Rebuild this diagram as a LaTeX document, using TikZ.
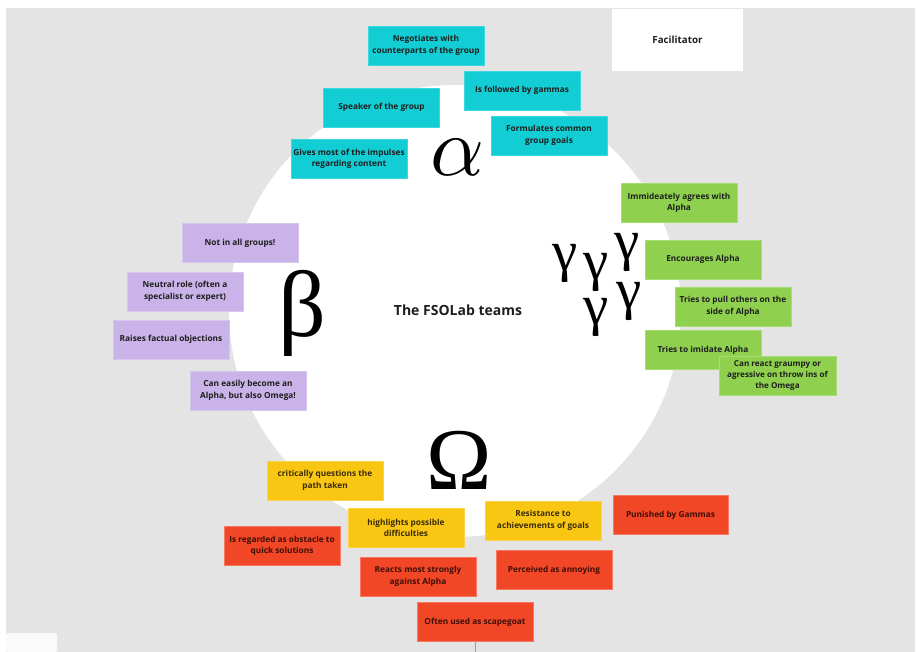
\documentclass[tikz,border=0pt]{standalone}
\usepackage{fontspec}
\setmainfont{Open Sans}
\newfontfamily\greekfont{Liberation Serif}
\definecolor{board}{HTML}{E4E4E4}
\definecolor{cyanfill}{HTML}{13CDD4}
\definecolor{cyanline}{HTML}{3DD8DE}
\definecolor{greenfill}{HTML}{8FD14F}
\definecolor{greenline}{HTML}{A6DC72}
\definecolor{lilacfill}{HTML}{C9B3E8}
\definecolor{lilacline}{HTML}{D6C6EE}
\definecolor{yellowfill}{HTML}{FAC614}
\definecolor{yellowline}{HTML}{FBD24A}
\definecolor{redfill}{HTML}{F24726}
\definecolor{redline}{HTML}{F57A62}
\definecolor{darktext}{HTML}{1E1E1E}
\definecolor{redtext}{HTML}{3E0F08}
\definecolor{yellowtext}{HTML}{3A2E05}
\tikzset{
  note/.style={rectangle, minimum width=116pt, minimum height=39pt, inner sep=0pt,
    align=center, line width=0.8pt, font=\bfseries\fontsize{8.3}{11.6}\selectfont},
  alphanote/.style={note, fill=cyanfill, draw=cyanline, text=darktext},
  gammanote/.style={note, fill=greenfill, draw=greenline, text=darktext},
  betanote/.style={note, fill=lilacfill, draw=lilacline, text=darktext},
  omeganote/.style={note, fill=yellowfill, draw=yellowline, text=yellowtext},
  hotnote/.style={note, fill=redfill, draw=redline, text=redtext},
  glyph/.style={inner sep=0pt, text=black},
}
\begin{document}
\begin{tikzpicture}[x=1pt, y=-1pt]
\useasboundingbox (0,0) rectangle (917,652);
% board
\fill[white] (0,0) rectangle (917,652);
\fill[board] (6,8) rectangle (915,652);
% central disc
\fill[white] (455,311) circle[radius=226];
\node[font=\bfseries\fontsize{14}{16}\selectfont, text=darktext] (title) at (458,310) {The FSOLab teams};

% facilitator card
\node[rectangle, fill=white, minimum width=131pt, minimum height=62pt, inner sep=0pt,
      font=\bfseries\fontsize{9.8}{12}\selectfont, text=darktext] (facil) at (677.5,40) {Facilitator};

% alpha
\node[glyph, scale=8.4] (alpha) at (458,157.5) {$\alpha$};
\node[alphanote] (a1) at (426,45.5) {Negotiates with\\counterparts of the group};
\node[alphanote] (a2) at (522,90.5) {Is followed by gammas};
\node[alphanote] (a3) at (381.5,107.5) {Speaker of the group};
\node[alphanote] (a4) at (549,135.5) {Formulates common\\group goals};
\node[alphanote] (a5) at (349,159) {Gives most of the impulses\\regarding content};

% gammas
\begin{scope}[every node/.style={glyph, font=\greekfont\fontsize{57}{57}\selectfont}]
\node (gm1) at (565,263) {γ};
\node (gm2) at (596,272) {γ};
\node (gm3) at (627,252) {γ};
\node (gm4) at (596,317) {γ};
\node (gm5) at (629,301) {γ};
\end{scope}
\node[gammanote] (c1) at (679,203) {Immideately agrees with\\Alpha};
\node[gammanote] (c2) at (703,259.5) {Encourages Alpha};
\node[gammanote] (c3) at (733,306.5) {Tries to pull others on the\\side of Alpha};
\node[gammanote] (c4) at (703,350) {Tries to imidate Alpha};
\node[gammanote, minimum width=117pt, font=\bfseries\fontsize{8.1}{10.9}\selectfont] (c5) at (777.5,375.5) {Can react graumpy or\\agressive on throw ins of\\the Omega};

% beta
\node[glyph, font=\greekfont\fontsize{94}{94}\selectfont] (beta) at (302,313.5) {β};
\node[betanote] (b1) at (240,243) {Not in all groups!};
\node[betanote] (b2) at (185,291.5) {Neutral role (often a\\specialist or expert)};
\node[betanote] (b3) at (171,339.5) {Raises factual objections};
\node[betanote] (b4) at (248,390.5) {Can easily become an\\Alpha, but also Omega!};

% omega
\node[glyph, font=\greekfont\fontsize{88}{88}\selectfont] (omega) at (459,460) {Ω};
\node[omeganote] (o1) at (325,480.5) {critically questions the\\path taken};
\node[omeganote] (o2) at (406,528) {highlights possible\\difficulties};
\node[omeganote] (o3) at (543,520.5) {Resistance to\\achievements of goals};
\node[hotnote] (h1) at (282,546) {Is regarded as obstacle to\\quick solutions};
\node[hotnote] (h2) at (418,576.5) {Reacts most strongly\\against Alpha};
\node[hotnote, minimum width=115pt] (h3) at (670.5,515) {Punished by Gammas};
\node[hotnote] (h4) at (554,570) {Perceived as annoying};
\node[hotnote] (h5) at (475,622) {Often used as scapegoat};
\coordinate (tail) at (475,652);
\draw[redline, line width=0.8pt] (h5.south) -- (tail);

% small card in the lower left corner
\fill[white!98!black, rounded corners=2pt] (6,652) -- (6,633) -- (57,633) -- (57,652) -- cycle;
\end{tikzpicture}
\end{document}
